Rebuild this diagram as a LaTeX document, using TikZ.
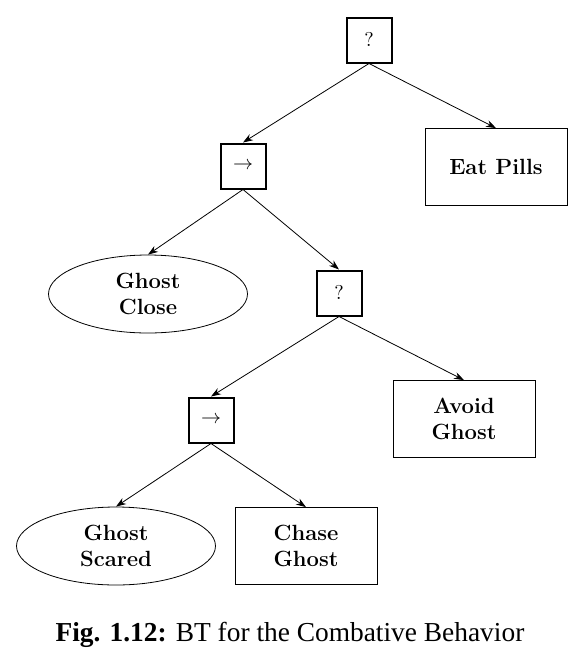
\documentclass[tikz,border=0pt]{standalone}
\usepackage{fontspec}
\usepackage{amsmath}
\newfontfamily\capfont{Liberation Serif}
\usetikzlibrary{shapes.geometric}
\usetikzlibrary{arrows.meta}

\tikzset{
  ctrl/.style={draw, line width=1pt, minimum size=22.5pt, inner sep=0pt},
  act/.style={draw, minimum width=71pt, minimum height=38.5pt, align=center,
    font=\fontsize{11}{13}\selectfont\bfseries},
  cond/.style={draw, ellipse, minimum width=99.5pt, minimum height=39pt, align=center,
    font=\fontsize{11}{13}\selectfont\bfseries},
  edge/.style={-{Stealth[length=5pt,width=3.5pt]}}
}

\begin{document}
\begin{tikzpicture}[x=0.5pt,y=-0.5pt]
\useasboundingbox (0,0) rectangle (585,660);
% tree
\node[ctrl] (root) at (369,40) {$?$};
\node[ctrl] (seqA) at (243,166) {$\rightarrow$};
\node[act] (eat) at (496,167) {Eat Pills};
\node[cond] (close) at (148,294) {Ghost\\Close};
\node[ctrl] (fallB) at (339,293) {$?$};
\node[ctrl] (seqB) at (211,420) {$\rightarrow$};
\node[act] (avoid) at (464,419) {Avoid\\Ghost};
\node[cond] (scared) at (116,546) {Ghost\\Scared};
\node[act] (chase) at (306,546) {Chase\\Ghost};
% edges
\draw[edge] (root.south) -- (seqA.north);
\draw[edge] (root.south) -- (eat.north);
\draw[edge] (seqA.south) -- (close.north);
\draw[edge] (seqA.south) -- (fallB.north);
\draw[edge] (fallB.south) -- (seqB.north);
\draw[edge] (fallB.south) -- (avoid.north);
\draw[edge] (seqB.south) -- (scared.north);
\draw[edge] (seqB.south) -- (chase.north);
% caption
\node[font=\capfont\fontsize{13.7}{16}\selectfont] (cap) at (290,635)
  {\textbf{Fig. 1.12:} BT for the Combative Behavior};
\end{tikzpicture}
\end{document}
